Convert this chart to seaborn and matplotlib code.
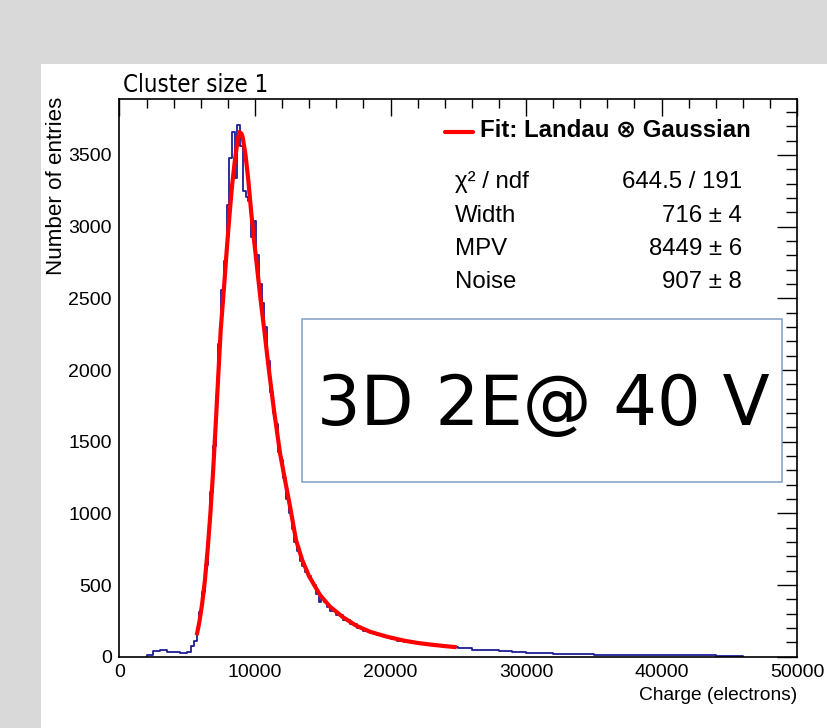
import numpy as np
import pandas as pd
import matplotlib
matplotlib.use("Agg")
import matplotlib.pyplot as plt
from matplotlib.patches import Rectangle
from matplotlib.ticker import MultipleLocator
import seaborn as sns

# ---------------- data ----------------
edges_low = [2000, 2500, 3000, 3500, 4000, 4500, 5000, 5300]
counts_low = [15, 40, 45, 35, 30, 28, 35]
count_5300 = [75]
counts_peak = [110, 200, 310, 450, 640, 870, 1150, 1470, 1820, 2180,
               2560, 2760, 3150, 3480, 3660, 3340, 3710, 3560, 3250, 3210,
               3180, 2930, 3040, 2800, 2600, 2470, 2300, 2060, 1850, 1700,
               1620, 1430, 1370, 1250, 1100, 1000, 890, 800, 740, 670,
               630, 590, 560, 530, 500, 440, 385, 400, 385, 350]
counts_tail = [320, 290, 255, 225, 200, 182, 168, 152, 138, 125,
               110, 103, 96, 90, 86, 81, 77, 72, 68]
counts_far = [58, 48, 45, 38, 34, 28, 24, 18, 17, 16, 15, 13, 12, 12,
              11, 11, 12, 10, 11, 6, 4]

edges = (edges_low
         + list(range(5500, 15501, 200))
         + list(range(16000, 25001, 500))
         + list(range(26000, 46001, 1000)))
counts = counts_low + count_5300 + counts_peak + counts_tail + counts_far

fit_x = [5700, 5900, 6100, 6300, 6500, 6700, 6900, 7100, 7300, 7469,
         7700, 7900, 8100, 8300, 8500, 8700, 8850, 9000, 9100, 9300,
         9500, 9705, 9900, 10100, 10400, 10686, 11000, 11400, 11845, 12200,
         12600, 13026, 13500, 14000, 14800, 15535, 16500, 17500, 18487, 19720,
         21000, 22000, 23000, 24000, 24885]
fit_y = [150, 245, 370, 530, 740, 990, 1280, 1620, 1980, 2279,
         2560, 2820, 3060, 3280, 3450, 3590, 3660, 3650, 3620, 3500,
         3330, 3116, 2930, 2760, 2500, 2279, 2020, 1720, 1421, 1240,
         1040, 814, 670, 560, 430, 349, 275, 215, 174, 140,
         112, 96, 84, 74, 66]

stat_names = ["\u03c7\u00b2 / ndf", "Width", "MPV", "Noise"]
stat_values = ["644.5 / 191", "716 \u00b1 4", "8449 \u00b1 6", "907 \u00b1 8"]

title_text = "Cluster size 1"
xlabel_text = "Charge (electrons)"
ylabel_text = "Number of entries"
legend_text = "Fit: Landau \u2297 Gaussian"
box_text = "3D 2E@ 40 V"

# ---------------- figure ----------------
sns.set_style("white")
plt.rcParams["font.family"] = ["Liberation Sans", "DejaVu Sans"]
plt.rcParams["text.color"] = "black"
plt.rcParams["axes.labelcolor"] = "black"
plt.rcParams["xtick.color"] = "black"
plt.rcParams["ytick.color"] = "black"

W, H = 828, 728
fig = plt.figure(figsize=(W / 100, H / 100), dpi=100, facecolor="#d9d9d9")
fig.patches.append(Rectangle((41 / W, 0), 1, 1 - 64 / H, transform=fig.transFigure,
                             facecolor="white", edgecolor="none", zorder=-5))

def fx(px):
    return px / W

def fy(py):
    return 1 - py / H

ax_l, ax_r, ax_t, ax_b = 119.5, 797.0, 98.5, 656.7
ax = fig.add_axes([fx(ax_l), fy(ax_b), (ax_r - ax_l) / W, (ax_b - ax_t) / H])
ax.set_facecolor("none")

# histogram outline (step, post) built from edges/counts
step_x = [edges[0]] + edges + [edges[-1]]
step_y = [0] + counts + [counts[-1], 0]
hist_df = pd.DataFrame({"charge": step_x, "entries": step_y})
sns.lineplot(data=hist_df, x="charge", y="entries", estimator=None, sort=False,
             drawstyle="steps-post", color="#1c1c96", linewidth=1.3, ax=ax)

fit_df = pd.DataFrame({"charge": fit_x, "entries": fit_y})
sns.lineplot(data=fit_df, x="charge", y="entries", color="#ff0000", linewidth=3.0,
             ax=ax, sort=True, estimator=None, solid_capstyle="butt")

ax.set_xlim(0, 50000)
ax.set_ylim(0, 3894)
ax.set_xlabel("")
ax.set_ylabel("")

ax.xaxis.set_major_locator(MultipleLocator(10000))
ax.xaxis.set_minor_locator(MultipleLocator(2000))
ax.yaxis.set_major_locator(MultipleLocator(500))
ax.yaxis.set_minor_locator(MultipleLocator(100))
ax.tick_params(which="both", direction="in", top=True, right=True, color="black", width=1.0,
               labelcolor="black")
ax.tick_params(axis="x", which="major", length=12.2, pad=5.5, labelsize=14.0)
ax.tick_params(axis="x", which="minor", length=6.5)
ax.tick_params(axis="y", which="major", length=14.4, pad=5.5, labelsize=14.0)
ax.tick_params(axis="y", which="minor", length=7.7)
for s in ax.spines.values():
    s.set_visible(True)
    s.set_color("black")
    s.set_linewidth(1.2)
ax.xaxis.set_major_formatter(plt.FuncFormatter(lambda v, p: f"{int(v)}"))
ax.yaxis.set_major_formatter(plt.FuncFormatter(lambda v, p: f"{int(v)}"))

# title & axis labels
fig.text(fx(123), fy(92.5), title_text, family="DejaVu Sans", fontstretch="condensed",
         fontsize=17.2, ha="left", va="baseline")
fig.text(fx(797), fy(700), xlabel_text, fontsize=13.8, ha="right", va="baseline")
fig.text(fx(57), fy(97), ylabel_text, fontsize=16.1, rotation=90, ha="center", va="top")

# stats / legend block
fig.lines.append(plt.Line2D([fx(445), fx(473)], [fy(132.3), fy(132.3)],
                            transform=fig.transFigure, color="#ff0000", linewidth=3.0))
fig.text(fx(480), fy(136.7), legend_text, fontsize=17.3, fontweight="bold",
         ha="left", va="baseline", family=["Liberation Sans", "DejaVu Sans"])
row_base = [188.0, 221.7, 255.0, 288.3]
for name, val, yb in zip(stat_names, stat_values, row_base):
    fig.text(fx(455), fy(yb), name, fontsize=17.3, ha="left", va="baseline")
    fig.text(fx(742), fy(yb), val, fontsize=17.3, ha="right", va="baseline")

# boxed label
bx0, bx1, by0, by1 = 301.7, 781.7, 319.3, 482.3
fig.patches.append(Rectangle((fx(bx0), fy(by1)), (bx1 - bx0) / W, (by1 - by0) / H,
                             transform=fig.transFigure, facecolor="white",
                             edgecolor="#7e9cc8", linewidth=1.1, zorder=3))
fig.text(fx((bx0 + bx1) / 2 + 2), fy(425), box_text, family="DejaVu Sans", fontsize=49.5,
         ha="center", va="baseline", zorder=4)

fig.savefig("out.png", dpi=100, facecolor=fig.get_facecolor())
